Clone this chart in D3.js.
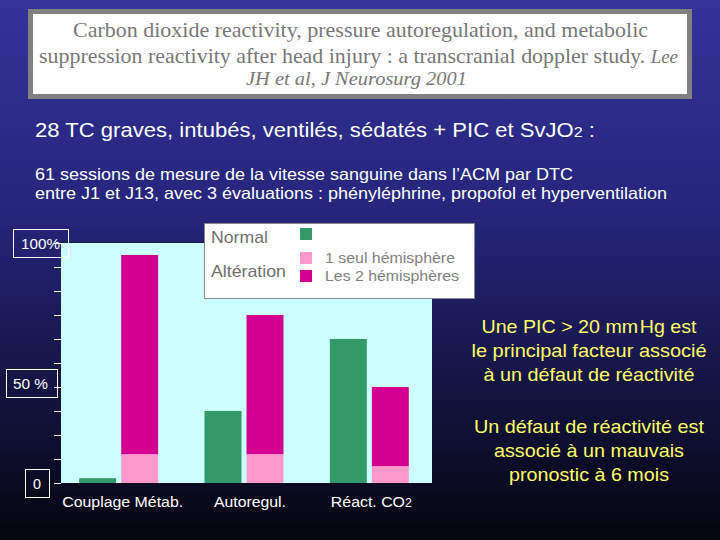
<!DOCTYPE html>
<html>
<head>
<meta charset="utf-8">
<script src="https://cdn.jsdelivr.net/npm/d3@7"></script>
<style>
  body { margin: 0; padding: 0; }
  #chart { width: 720px; height: 540px; }
</style>
</head>
<body>
<div id="chart"></div>
<script>
// data
var categories = ["Couplage Métab.", "Autoregul.", "Réact. CO2"];
var normal = [2, 30, 60];
var uneHemisphere = [12, 12, 7];
var deuxHemispheres = [83, 58, 33];
var tickValues = [0, 10, 20, 30, 40, 50, 60, 70, 80, 90, 100];
// boxed axis labels (as placed on the original slide)
var axisLabels = ["100%", "50 %", "0"];
var axisLabelValues = [100, 40, 0];

var colors = { normal: "#339966", one: "#ff99cc", two: "#d4008f" };

var W = 720, H = 540;
var svg = d3.select("#chart").append("svg")
  .attr("width", W)
  .attr("height", H)
  .style("font-family", "Arial, 'Liberation Sans', sans-serif");

// stretch a text to the width it has on the slide
function fit(sel, w) {
  sel.attr("textLength", w).attr("lengthAdjust", "spacingAndGlyphs");
  return sel;
}

var defs = svg.append("defs");
var grad = defs.append("linearGradient").attr("id", "bg")
  .attr("x1", 0).attr("y1", 0).attr("x2", 0).attr("y2", 1);
grad.append("stop").attr("offset", "0%").attr("stop-color", "#333399");
grad.append("stop").attr("offset", "40%").attr("stop-color", "#25257b");
grad.append("stop").attr("offset", "100%").attr("stop-color", "#05050f");
svg.append("rect").attr("width", W).attr("height", H).attr("fill", "url(#bg)");

// title box
svg.append("rect")
  .attr("x", 30.5).attr("y", 11.5).attr("width", 659).attr("height", 85)
  .attr("fill", "#ffffff").attr("stroke", "#808080").attr("stroke-width", 5);
var title = svg.append("g")
  .style("font-family", "'Liberation Serif', 'Times New Roman', serif")
  .attr("fill", "#777777")
  .style("font-size", "22px");
fit(title.append("text").attr("x", 73).attr("y", 37)
  .text("Carbon dioxide reactivity, pressure autoregulation, and metabolic"), 575);
var t2 = title.append("text").attr("x", 39).attr("y", 63);
t2.append("tspan").text("suppression reactivity after head injury : a transcranial doppler study. ");
t2.append("tspan").style("font-style", "italic").style("font-size", "19px").text("Lee");
fit(t2, 639);
fit(title.append("text").attr("x", 246).attr("y", 85)
  .style("font-style", "italic").style("font-size", "19px")
  .text("JH et al, J Neurosurg 2001"), 221);

// subtitles
var st = svg.append("text").attr("x", 35).attr("y", 137)
  .attr("fill", "#ffffff").style("font-size", "20.5px");
st.append("tspan").text("28 TC graves, intubés, ventilés, sédatés + PIC et SvJO");
st.append("tspan").style("font-size", "15px").text("2");
st.append("tspan").text(" :");
fit(st, 560);
fit(svg.append("text").attr("x", 35).attr("y", 180)
  .attr("fill", "#ffffff").style("font-size", "16.5px")
  .text("61 sessions de mesure de la vitesse sanguine dans l’ACM par DTC"), 538);
fit(svg.append("text").attr("x", 35).attr("y", 199)
  .attr("fill", "#ffffff").style("font-size", "16.5px")
  .text("entre J1 et J13, avec 3 évaluations : phényléphrine, propofol et hyperventilation"), 632);

// chart
var plot = { left: 61, right: 432, top: 243, bottom: 483 };

var y = d3.scaleLinear().domain([0, 100]).range([plot.bottom, plot.top]);
var x0 = d3.scaleBand().domain(categories)
  .range([56, 432]).paddingInner(0.37).paddingOuter(0.185);
var x1 = d3.scaleBand().domain(["normal", "alt"])
  .range([0, x0.bandwidth()]).paddingInner(0.12);

svg.append("rect")
  .attr("x", plot.left).attr("y", plot.top)
  .attr("width", plot.right - plot.left).attr("height", plot.bottom - plot.top)
  .attr("fill", "#ccffff");
svg.append("line")
  .attr("x1", plot.left).attr("x2", plot.right)
  .attr("y1", plot.top - 0.5).attr("y2", plot.top - 0.5)
  .attr("stroke", "#1a1a40");

var yAxis = d3.axisLeft(y).tickValues(tickValues).tickSize(7).tickFormat("");
var gy = svg.append("g")
  .attr("transform", "translate(" + plot.left + ",0)")
  .call(yAxis);
gy.select(".domain").remove();
gy.selectAll(".tick line").attr("stroke", "#ffffff");

var rows = categories.map(function (c, i) {
  return { cat: c, normal: normal[i], one: uneHemisphere[i], two: deuxHemispheres[i] };
});

var groups = svg.selectAll(".grp").data(rows).enter().append("g")
  .attr("class", "grp")
  .attr("transform", function (d) { return "translate(" + x0(d.cat) + ",0)"; });

groups.append("rect")
  .attr("x", x1("normal")).attr("width", x1.bandwidth())
  .attr("y", function (d) { return y(d.normal); })
  .attr("height", function (d) { return y(0) - y(d.normal); })
  .attr("fill", colors.normal);
groups.append("rect")
  .attr("x", x1("alt")).attr("width", x1.bandwidth())
  .attr("y", function (d) { return y(d.one); })
  .attr("height", function (d) { return y(0) - y(d.one); })
  .attr("fill", colors.one);
groups.append("rect")
  .attr("x", x1("alt")).attr("width", x1.bandwidth())
  .attr("y", function (d) { return y(d.one + d.two); })
  .attr("height", function (d) { return y(d.one) - y(d.one + d.two); })
  .attr("fill", colors.two);

// category labels
var labelWidths = [121, 72, 81];
var labelShift = [4, 6, 2];
svg.selectAll(".xlab").data(categories).enter().append("text")
  .attr("class", "xlab")
  .attr("x", function (d, i) { return x0(d) + x0.bandwidth() / 2 + labelShift[i]; })
  .attr("y", 507)
  .attr("text-anchor", "middle")
  .attr("fill", "#ffffff")
  .style("font-size", "15.5px")
  .each(function (d, i) {
    var el = d3.select(this);
    if (d === "Réact. CO2") {
      el.append("tspan").text("Réact. CO");
      el.append("tspan").style("font-size", "12px").text("2");
    } else {
      el.text(d);
    }
    fit(el, labelWidths[i]);
  });

// boxed y labels
var boxStyle = [
  { cx: 40.5, tw: 39, bx: 13, bw: 55, dy: 0 },
  { cx: 30.5, tw: 35, bx: 6, bw: 51, dy: -4 },
  { cx: 37, tw: 8, bx: 25, bw: 24, dy: 0 }
];
axisLabels.forEach(function (lab, i) {
  var v = axisLabelValues[i], s = boxStyle[i];
  var cy = Math.round(y(v)) + s.dy;
  svg.append("rect")
    .attr("x", s.bx + 0.5).attr("y", cy - 13.5)
    .attr("width", s.bw).attr("height", 28)
    .attr("fill", "none").attr("stroke", "#ffffff").attr("stroke-width", 1);
  fit(svg.append("text")
    .attr("x", s.cx).attr("y", cy + 5.5)
    .attr("text-anchor", "middle")
    .attr("fill", "#ffffff")
    .style("font-size", "15px")
    .text(lab), s.tw);
});

// legend
var lg = svg.append("g");
lg.append("rect")
  .attr("x", 204.5).attr("y", 223.5).attr("width", 270).attr("height", 75)
  .attr("fill", "#fefefe").attr("stroke", "#8a8a8a");
fit(lg.append("text").attr("x", 211).attr("y", 243)
  .attr("fill", "#707070").style("font-size", "17px").text("Normal"), 57);
fit(lg.append("text").attr("x", 211).attr("y", 277)
  .attr("fill", "#707070").style("font-size", "17px").text("Altération"), 75);
var legendItems = [
  { c: colors.normal, y: 228, label: "", w: 0 },
  { c: colors.one, y: 252, label: "1 seul hémisphère", w: 130 },
  { c: colors.two, y: 270, label: "Les 2 hémisphères", w: 134 }
];
legendItems.forEach(function (d) {
  lg.append("rect").attr("x", 300).attr("y", d.y).attr("width", 12).attr("height", 12).attr("fill", d.c);
  if (d.label) {
    fit(lg.append("text").attr("x", 325).attr("y", d.y + 11)
      .attr("fill", "#808080").style("font-size", "15px").text(d.label), d.w);
  }
});

// right notes
var notes = [
  "Une PIC > 20 mm\u200AHg est",
  "le principal facteur associé",
  "à un défaut de réactivité",
  "Un défaut de réactivité est",
  "associé à un mauvais",
  "pronostic à 6 mois"
];
var noteY = [333, 357, 381, 433, 457, 481];
var noteW = [215, 235, 211, 230, 190, 160];
svg.selectAll(".note").data(notes).enter().append("text")
  .attr("class", "note")
  .attr("x", 589)
  .attr("y", function (d, i) { return noteY[i]; })
  .attr("text-anchor", "middle")
  .attr("fill", "#ffff66")
  .style("font-size", "18.5px")
  .text(function (d) { return d; })
  .each(function (d, i) { fit(d3.select(this), noteW[i]); });
</script>
</body>
</html>
